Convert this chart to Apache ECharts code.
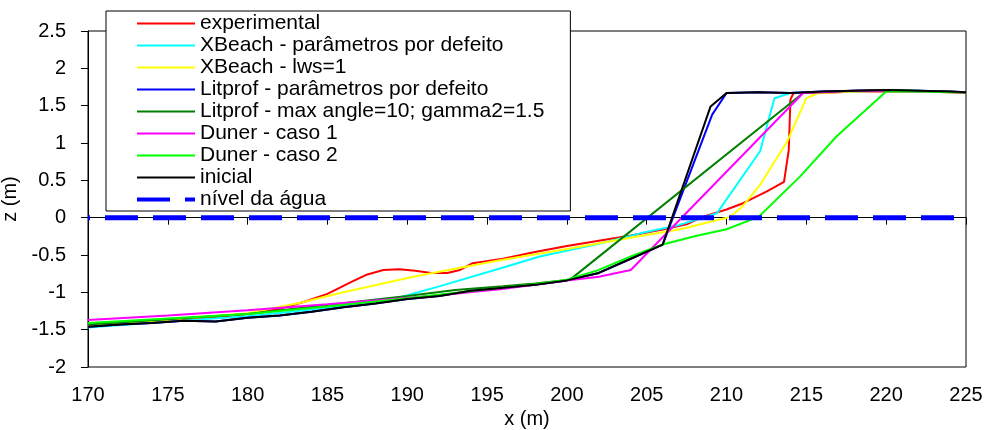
<!DOCTYPE html>
<html>
<head>
<meta charset="utf-8">
<script src="https://cdn.jsdelivr.net/npm/echarts@6/dist/echarts.min.js"></script>
<style>
  html, body { margin: 0; padding: 0; background: #fff; }
  #chart { width: 987px; height: 430px; }
</style>
</head>
<body>
<div id="chart"></div>
<script>
// Beach profile cross-sections: distance x (m) against elevation z (m)
const xTicks = { min: 170, max: 225, step: 5 };
const zTicks = { min: -2, max: 2.5, step: 0.5 };

const experimental = [[170,-1.44],[172,-1.42],[174,-1.39],[176,-1.36],[178,-1.33],[180,-1.29],[182,-1.22],[183.5,-1.13],[185,-1.02],[186.5,-0.86],[187.5,-0.76],[188.5,-0.70],[189.5,-0.69],[190.5,-0.71],[191.5,-0.74],[192.5,-0.74],[193.3,-0.70],[194.1,-0.61],[196,-0.55],[198,-0.46],[200,-0.38],[202,-0.31],[204,-0.24],[206,-0.16],[207.5,-0.09],[208.5,0.01],[210,0.11],[211,0.19],[212.5,0.35],[213.6,0.48],[213.9,0.91],[214,1.58],[214.2,1.67],[216,1.67],[218,1.69],[220,1.69],[222,1.69],[224,1.68],[225,1.67]];
const xbeachDefault = [[170,-1.47],[175,-1.39],[180,-1.32],[185,-1.21],[189.5,-1.07],[192,-0.92],[195.8,-0.68],[198.3,-0.52],[202,-0.35],[204.6,-0.21],[207,-0.10],[209.4,0.06],[212.1,0.89],[213,1.60],[214,1.67],[216,1.68],[218,1.69],[220,1.70],[222,1.69],[225,1.68]];
const xbeachLws = [[170,-1.45],[175,-1.37],[180,-1.28],[183.3,-1.14],[186,-1.00],[190.6,-0.78],[195.8,-0.57],[200,-0.42],[203.7,-0.28],[207.1,-0.155],[210.2,0.01],[211,0.15],[212.1,0.44],[213.8,1.02],[215,1.60],[215.75,1.67],[218,1.69],[220,1.70],[222,1.69],[225,1.68]];
const litprofDefault = [[170,-1.46],[172,-1.43],[174,-1.41],[176,-1.38],[178,-1.39],[180,-1.34],[182,-1.31],[184,-1.26],[186,-1.20],[188,-1.15],[190,-1.09],[192,-1.05],[194,-0.98],[196,-0.94],[198,-0.90],[200,-0.84],[202,-0.74],[204,-0.55],[206,-0.36],[209.1,1.38],[210,1.67],[212,1.68],[214,1.67],[216,1.69],[218,1.70],[220,1.71],[222,1.70],[224,1.69],[225,1.68]];
const litprofAngle = [[170,-1.43],[175,-1.36],[180,-1.29],[185,-1.17],[190,-1.05],[193,-0.97],[196,-0.92],[198,-0.88],[200.2,-0.83],[214.8,1.67],[218,1.70],[220,1.71],[222,1.70],[225,1.68]];
const dunerCaso1 = [[170,-1.37],[175,-1.31],[180,-1.24],[185,-1.16],[188.5,-1.10],[192,-1.04],[195.8,-0.96],[198,-0.90],[200,-0.84],[202,-0.79],[204,-0.70],[214.8,1.67],[218,1.70],[220,1.70],[222,1.69],[225,1.68]];
const dunerCaso2 = [[170,-1.41],[175,-1.35],[180,-1.29],[185,-1.19],[190,-1.08],[195,-0.96],[198,-0.89],[200,-0.83],[202,-0.70],[204,-0.52],[206,-0.36],[208,-0.25],[210,-0.155],[212,0.01],[214.6,0.55],[216.9,1.09],[220,1.69],[222,1.69],[224,1.68],[225,1.68]];
const inicial = [[170,-1.46],[172,-1.43],[174,-1.41],[176,-1.38],[178,-1.39],[180,-1.34],[182,-1.31],[184,-1.26],[186,-1.20],[188,-1.15],[190,-1.09],[192,-1.05],[194,-0.98],[196,-0.94],[198,-0.90],[200,-0.84],[202,-0.74],[204,-0.55],[206,-0.36],[209,1.49],[210,1.67],[212,1.68],[214,1.67],[216,1.69],[218,1.70],[220,1.71],[222,1.70],[224,1.69],[225,1.68]];
const nivelAgua = [[170,0],[225,0]];

const seriesNames = [
  'experimental',
  'XBeach - parâmetros por defeito',
  'XBeach - lws=1',
  'Litprof - parâmetros por defeito',
  'Litprof - max angle=10; gamma2=1.5',
  'Duner - caso 1',
  'Duner - caso 2',
  'inicial',
  'nível da água'
];
const seriesData = [experimental, xbeachDefault, xbeachLws, litprofDefault, litprofAngle, dunerCaso1, dunerCaso2, inicial, nivelAgua];
const seriesColors = ['#ff0000', '#00ffff', '#ffff00', '#0000ff', '#008000', '#ff00ff', '#00ff00', '#000000', '#0000ff'];

const FONT = 'Liberation Sans, Arial, sans-serif';

const series = seriesNames.map((name, i) => {
  const isWater = i === seriesNames.length - 1;
  return {
    name,
    type: 'line',
    data: seriesData[i],
    symbol: 'none',
    silent: true,
    animation: false,
    lineStyle: isWater
      ? { color: seriesColors[i], width: 5, type: [33, 15], dashOffset: 31 }
      : { color: seriesColors[i], width: 2 },
    itemStyle: { color: seriesColors[i] }
  };
});

const chart = echarts.init(document.getElementById('chart'), null, { renderer: 'canvas' });
chart.setOption({
  animation: false,
  backgroundColor: '#fff',
  grid: {
    left: 88, right: 21, top: 31, bottom: 63,
    show: true, borderColor: '#000', borderWidth: 1,
    outerBoundsMode: 'none'
  },
  legend: {
    orient: 'vertical',
    left: 106, top: 11,
    padding: [2, 26, 1, 29],
    itemGap: 1,
    itemWidth: 58,
    itemHeight: 14,
    backgroundColor: '#fff',
    borderColor: '#000',
    borderWidth: 1,
    selectedMode: false,
    // line-only swatches: hide the marker drawn on top of each line
    itemStyle: { opacity: 0 },
    textStyle: { fontFamily: FONT, fontSize: 21, color: '#000', lineHeight: 21 },
    data: seriesNames.map((n, i) => i === seriesNames.length - 1
      ? { name: n, lineStyle: { dashOffset: 0, width: 4 } }
      : { name: n })
  },
  xAxis: {
    type: 'value',
    min: xTicks.min, max: xTicks.max, interval: xTicks.step,
    name: 'x (m)', nameLocation: 'middle', nameGap: 41,
    nameTextStyle: { fontFamily: FONT, fontSize: 20, color: '#000' },
    axisLine: { show: true, lineStyle: { color: '#000', width: 1 } },
    axisTick: { show: true, length: 7, lineStyle: { color: '#000' } },
    axisLabel: { fontFamily: FONT, fontSize: 20, color: '#000', margin: 18 },
    splitLine: { show: false }
  },
  yAxis: {
    type: 'value',
    min: zTicks.min, max: zTicks.max, interval: zTicks.step,
    name: 'z (m)', nameLocation: 'middle', nameGap: 58, nameRotate: 90,
    nameTextStyle: { fontFamily: FONT, fontSize: 20, color: '#000' },
    axisLine: { show: true, lineStyle: { color: '#000', width: 1 } },
    axisTick: { show: true, length: 7, lineStyle: { color: '#000' } },
    axisLabel: { fontFamily: FONT, fontSize: 20, color: '#000', margin: 22 },
    splitLine: { show: false }
  },
  series
});
</script>
</body>
</html>
